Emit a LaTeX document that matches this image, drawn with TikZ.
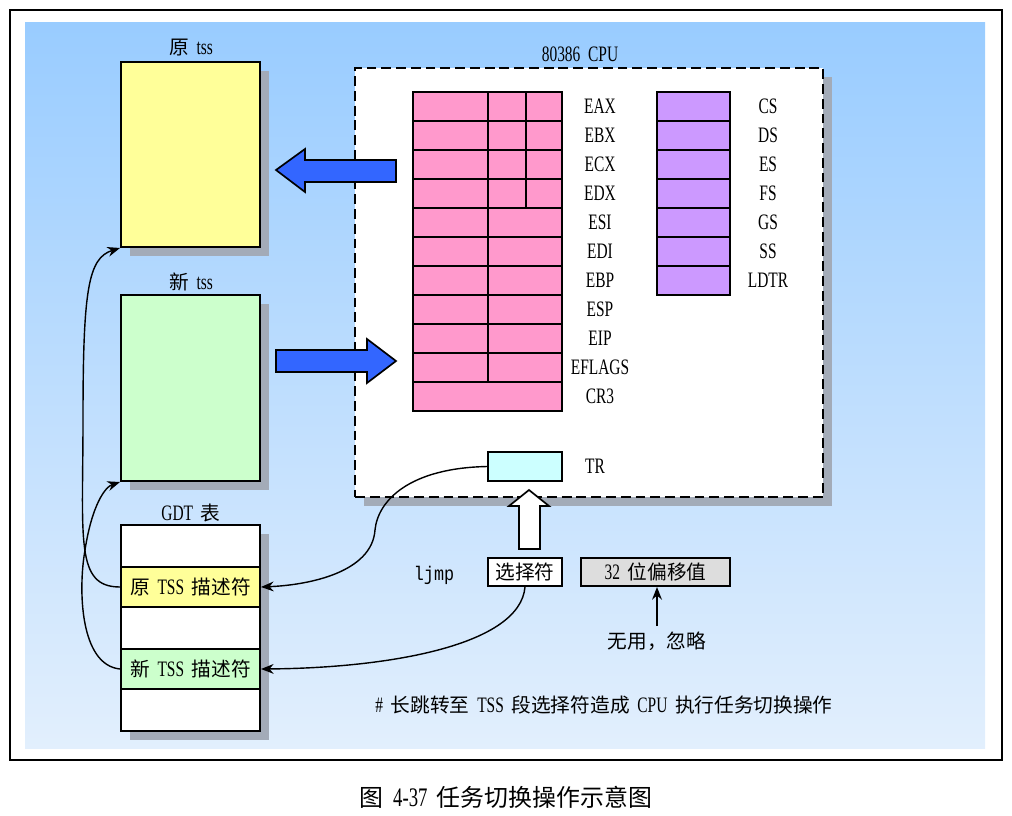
\documentclass[tikz,border=0pt]{standalone}
\usepackage{fontspec}
\setmainfont{Liberation Serif}[Scale=1.12, FakeStretch=0.7, WordSpace=2]
\newfontfamily\cjk{Noto Sans CJK SC}
\newfontfamily\mono{Liberation Mono}[FakeStretch=0.85]
\usetikzlibrary{arrows.meta,fit,shadows}
\newcommand{\zh}[1]{{\cjk #1}}

\definecolor{bgtop}{HTML}{99CCFF}
\definecolor{bgbottom}{HTML}{E2EFFD}
\definecolor{regpink}{HTML}{FF99CC}
\definecolor{segpurple}{HTML}{CC99FF}
\definecolor{tssyellow}{HTML}{FFFF99}
\definecolor{tssgreen}{HTML}{CCFFCC}
\definecolor{trcyan}{HTML}{CCFFFF}
\definecolor{offgray}{HTML}{DDDDDD}
\definecolor{movblue}{HTML}{3366FF}
\definecolor{shadowgray}{HTML}{A3ABB8}

\tikzset{
  box/.style={draw, line width=1.4pt, inner sep=0pt},
  cell/.style 2 args={box, minimum width=#1*0.025cm, minimum height=#2*0.025cm},
  shadowed/.style={general shadow={fill=shadowgray, shadow xshift=0.225cm, shadow yshift=-0.225cm}},
  reg/.style={draw, line width=1.2pt},
  regname/.style={anchor=center},
  link/.style={line width=1pt, ->},
  bigarrow/.style={draw, line width=1.2pt, fill=movblue, line join=miter}
}

\begin{document}
\begin{tikzpicture}[x=0.025cm, y=-0.025cm, >={Stealth[length=9pt,width=7pt]},
  font=\fontsize{14}{16}\selectfont]

\useasboundingbox (0,0) rectangle (1012,815);

% frame and background
\draw[line width=1.8pt] (10,10) rectangle (1002,760);
\shade[top color=bgtop, bottom color=bgbottom] (25,22) rectangle (985,748);

% task state segments
\node[box, shadowed, fill=tssyellow, fit={(121,62) (260,247)}] (oldtss) {};
\node[box, shadowed, fill=tssgreen, fit={(121,295) (260,481)}] (newtss) {};
\node (oldtsslbl) at (191,48) {\zh{原} tss};
\node (newtsslbl) at (191,282) {\zh{新} tss};

% GDT
\node[box, shadowed, fill=white, fit={(121,525) (260,731)}] (gdt) {};
\node (gdtlbl) at (191,513) {GDT \zh{表}};
\node[cell={139}{42}, fill=white] (gdt0) at (190.5,546) {};
\node[cell={139}{40}, fill=tssyellow] (oldsel) at (190.5,587) {\zh{原} TSS \zh{描述符}};
\node[cell={139}{42}, fill=white] (gdt2) at (190.5,628) {};
\node[cell={139}{40}, fill=tssgreen] (newsel) at (190.5,669) {\zh{新} TSS \zh{描述符}};
\node[cell={139}{42}, fill=white] (gdt4) at (190.5,710) {};

% CPU
\node[draw, line width=1.3pt, dash pattern=on 7pt off 3.5pt, fill=white, inner sep=0pt,
  shadowed, fit={(355,68) (823,497)}] (cpu) {};
\node (cpulbl) at (580,54) {80386 CPU};

% general registers
\foreach \name [count=\i from 0] in {EAX,EBX,ECX,EDX,ESI,EDI,EBP,ESP,EIP,EFLAGS,CR3} {
  \draw[reg, fill=regpink] (413,92+29*\i) rectangle (562,121+29*\i);
  \node[regname] (reg\i) at (600,106.5+29*\i) {\name};
}
\foreach \i in {0,...,3}
  \draw[reg] (526,92+29*\i) -- (526,121+29*\i);
\draw[reg] (488,92) -- (488,382);

% segment registers
\foreach \name [count=\i from 0] in {CS,DS,ES,FS,GS,SS,LDTR} {
  \draw[reg, fill=segpurple] (657,92+29*\i) rectangle (730,121+29*\i);
  \node[regname] (seg\i) at (768,106.5+29*\i) {\name};
}

% task register
\node[cell={74}{29}, line width=1.2pt, fill=trcyan] (tr) at (525,466.5) {};
\node (trlbl) at (595,466) {TR};

% save / load arrows
\draw[bigarrow] (396,160) -- (305,160) -- (305,149) -- (276,170) -- (305,192)
  -- (305,182) -- (396,182) -- cycle;
\draw[bigarrow] (276,350) -- (367,350) -- (367,339) -- (396,361) -- (367,383)
  -- (367,372) -- (276,372) -- cycle;

% ljmp instruction
\node[font=\mono\fontsize{14}{16}\selectfont] (ljmp) at (434,575) {ljmp};
\node[cell={74}{28}, fill=white] (sel) at (525,572) {\zh{选择符}};
\node[cell={149}{28}, fill=offgray] (offset) at (655.5,572) {32 \zh{位偏移值}};
\node (unused) at (657,641) {\zh{无用，忽略}};
\draw[link] (unused.north) -- (offset.south -| unused.north);

\draw[line width=1.2pt, fill=white, line join=miter] (519,549) -- (519,506) -- (509,506)
  -- (529,490) -- (549,506) -- (540,506) -- (540,549) -- cycle;

% links
\draw[link] (tr.west) .. controls (410,468) and (378,500) .. (375,530)
  .. controls (372,572) and (310,585) .. (oldsel.east);
\draw[link] (sel.south) .. controls (520,645) and (390,668) .. (newsel.east);
\draw[link] (oldsel.west) .. controls (75,587) and (83,540) .. (83,420)
  .. controls (83,290) and (88,258) .. (oldtss.south west);
\draw[link] (newsel.west) .. controls (80,665) and (78,590) .. (85,550)
  .. controls (92,505) and (105,487) .. (newtss.south west);

\node (note) at (604,705) {\# \zh{长跳转至} TSS \zh{段选择符造成} CPU \zh{执行任务切换操作}};

% caption
\node[font=\fontsize{17}{19}\selectfont] (caption) at (506,797)
  {\zh{图} 4-37 \zh{任务切换操作示意图}};

\end{tikzpicture}
\end{document}
